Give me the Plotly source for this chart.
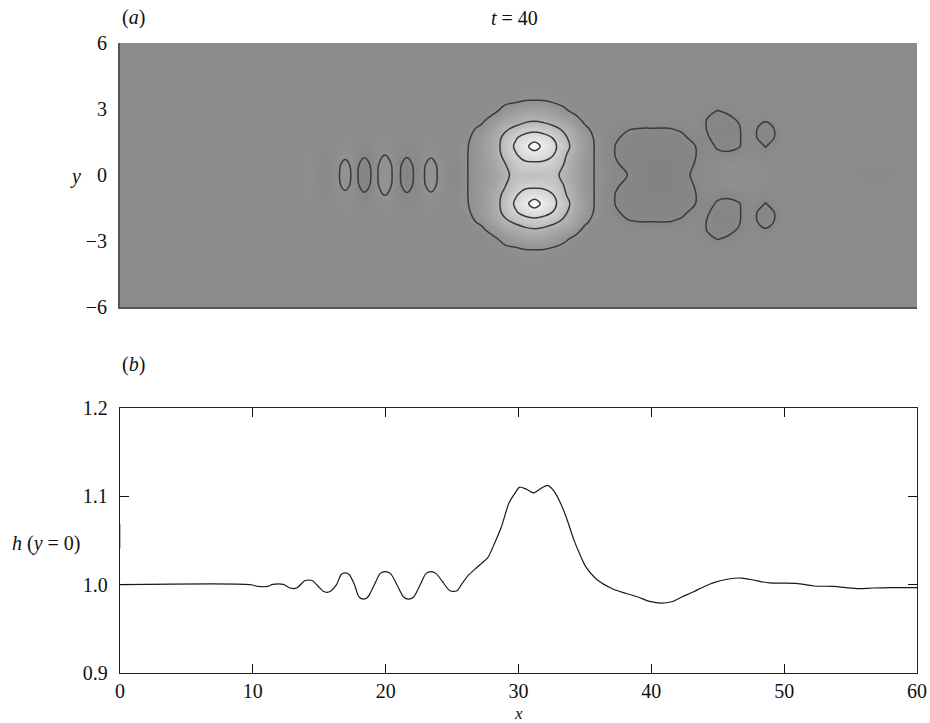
import plotly.graph_objects as go

# ---------------- panel (b): h along y = 0 ----------------
x_line = [0, 9.8, 10.4, 11.1, 11.5, 12.3, 12.8, 13.3, 13.9, 14.2, 14.5, 14.9, 15.3, 15.58, 15.85,
          16.3, 16.65, 16.95, 17.25, 17.65, 18.0, 18.33, 18.66, 19.15, 19.6, 19.96, 20.35,
          20.85, 21.35, 21.72, 22.1, 22.6, 23.05, 23.42, 23.8, 24.25, 24.8, 25.1, 25.4,
          25.7, 26.2, 26.9, 27.7, 28.2, 28.7, 29.3, 29.8, 30.08, 30.6, 31.15, 31.7, 32.2,
          32.5, 32.84, 33.2, 33.6, 34.2, 34.6, 35.1, 35.85, 37.1, 38.1, 39.0, 39.87, 40.75,
          41.6, 42.3, 43.1, 44.0, 44.65, 45.8, 46.8, 47.9, 48.9, 50.9, 52.2, 53.7, 55.45,
          56.7, 58.0, 60.0]
h_line = [1.0, 1.0, 0.998, 0.998, 1.0003, 1.0003, 0.9962, 0.9962, 1.0045, 1.0053, 1.0045,
          0.9985, 0.9925, 0.9913, 0.9925,
          1.0, 1.0115, 1.0133, 1.0115, 1.0, 0.986, 0.9837, 0.986, 1.0, 1.0128, 1.0148, 1.0128,
          1.0, 0.986, 0.9837, 0.986, 1.0, 1.0128, 1.0148, 1.0125, 1.004, 0.9935, 0.9924, 0.9935,
          1.0, 1.0102, 1.02, 1.031, 1.047, 1.065, 1.093, 1.105, 1.1105, 1.108, 1.104, 1.109, 1.1124,
          1.109, 1.102, 1.091, 1.076, 1.0496, 1.035, 1.0195, 1.0064, 0.9951, 0.990, 0.986, 0.981, 0.979,
          0.981, 0.986, 0.9914, 0.998, 1.002, 1.0064, 1.0075, 1.0045, 1.002, 1.0015, 0.9985, 0.998, 0.9955,
          0.9962, 0.9966, 0.9966]
# short spurious segment at the left edge of panel (b)
x_edge = [0, 0]
h_edge = [1.069, 1.041]

# ---------------- panel (a): h(x, y) on a coarse grid (upper half, mirrored) ----------------
x_nodes = [0, 11.0, 13.0, 14.25, 15.4,
           16.5, 16.95, 17.4, 17.9, 18.4, 18.9, 19.4, 19.95, 20.5, 21.1, 21.6, 22.1, 22.9, 23.4, 23.9,
           25.1, 26.2, 27.2, 28.2, 29.0, 29.8, 30.5, 31.2, 31.9, 32.6, 33.4, 34.3, 35.0, 35.7, 36.5,
           37.3, 38.3, 39.3, 40.3, 41.3, 42.3, 43.3,
           44.2, 45.0, 45.8, 46.6, 47.4, 48.0, 48.6, 49.2, 50.0,
           52.0, 56.0, 60.0]
y_half = [0, 0.5, 0.9, 1.3, 1.7, 2.1, 2.5, 2.9, 3.4, 4.0, 6.0]

h_y00 = [1.0, 0.999, 0.997, 1.005, 0.991,
         1.0098, 1.014, 1.0098, 0.9902, 0.984, 0.9902, 1.0098, 1.015, 1.0098, 0.9902, 0.984, 0.9902, 1.0098, 1.014, 1.0098,
         0.992, 1.0102, 1.026, 1.045, 1.08, 1.105, 1.110, 1.104, 1.110, 1.108, 1.076, 1.045, 1.022, 1.0098, 1.001,
         0.994, 0.9895, 0.984, 0.980, 0.980, 0.986, 0.9925,
         0.9985, 1.003, 1.0064, 1.0075, 1.006, 1.004, 1.003, 1.002, 1.0015,
         0.999, 0.996, 0.9966]
h_y05 = [1.0, 1.0, 0.998, 1.004, 0.993,
         1.0091, 1.012, 1.0091, 0.9909, 0.987, 0.9909, 1.0094, 1.0135, 1.0094, 0.9908, 0.987, 0.9908, 1.0094, 1.012, 1.0094,
         0.995, 1.0102, 1.028, 1.055, 1.089, 1.125, 1.14, 1.14, 1.14, 1.13, 1.091, 1.05, 1.025, 1.0098, 1.0,
         0.9915, 0.986, 0.983, 0.981, 0.981, 0.985, 0.9905,
         0.998, 1.002, 1.005, 1.006, 1.005, 1.003, 1.002, 1.0015, 1.001,
         0.999, 0.997, 0.997]
h_y09 = [1.0, 1.0, 0.999, 1.003, 0.995,
         1.004, 1.008, 1.004, 0.996, 0.9913, 0.996, 1.006, 1.0104, 1.006, 0.996, 0.991, 0.996, 1.004, 1.0091, 1.004,
         0.996, 1.0102, 1.03, 1.065, 1.105, 1.145, 1.17, 1.178, 1.17, 1.151, 1.1, 1.055, 1.028, 1.0098, 1.0,
         0.9895, 0.985, 0.983, 0.982, 0.982, 0.984, 0.9895,
         0.996, 0.9925, 0.992, 0.996, 1.0, 0.999, 0.995, 0.999, 1.0,
         0.999, 0.998, 0.998]
h_y13 = [1.0, 1.0, 1.0, 1.002, 0.997,
         1.002, 1.005, 1.002, 0.998, 0.994, 0.998, 1.003, 1.0072, 1.003, 0.998, 0.994, 0.998, 1.002, 1.005, 1.002,
         0.996, 1.0095, 1.03, 1.065, 1.115, 1.16, 1.192, 1.24, 1.192, 1.165, 1.12, 1.062, 1.03, 1.0098, 1.0,
         0.9895, 0.985, 0.9835, 0.983, 0.983, 0.985, 0.9898,
         0.994, 0.9885, 0.9875, 0.989, 0.998, 0.994, 0.9895, 0.994, 0.999,
         1.0, 0.999, 0.999]
h_y17 = [1.0, 1.0, 1.0, 1.001, 0.999,
         1.001, 1.002, 1.001, 0.999, 0.998, 0.999, 1.001, 1.003, 1.001, 0.999, 0.998, 0.999, 1.001, 1.002, 1.001,
         0.997, 1.006, 1.028, 1.06, 1.108, 1.145, 1.17, 1.18, 1.17, 1.148, 1.105, 1.055, 1.027, 1.008, 1.0,
         0.9915, 0.987, 0.9855, 0.985, 0.9855, 0.988, 0.993,
         0.991, 0.9865, 0.986, 0.9885, 0.998, 0.9893, 0.9875, 0.9893, 0.999,
         1.0, 1.0, 1.0]
h_y21 = [1.0, 1.0, 1.0, 1.0, 1.0,
         1.0, 1.0, 1.0, 1.0, 1.0, 1.0, 1.0, 1.001, 1.0, 1.0, 1.0, 1.0, 1.0, 1.0, 1.0,
         0.998, 1.002, 1.017, 1.05, 1.08, 1.105, 1.125, 1.132, 1.125, 1.108, 1.08, 1.045, 1.016, 1.003, 1.0,
         0.996, 0.9905, 0.9895, 0.9895, 0.9895, 0.9915, 0.997,
         0.9895, 0.9858, 0.986, 0.9888, 0.998, 0.9895, 0.9878, 0.9895, 0.999,
         1.0, 1.0, 1.0]
h_y25 = [1.0, 1.0, 1.0, 1.0, 1.0,
         1.0, 1.0, 1.0, 1.0, 1.0, 1.0, 1.0, 1.0, 1.0, 1.0, 1.0, 1.0, 1.0, 1.0, 1.0,
         1.0, 1.0, 1.003, 1.025, 1.05, 1.06, 1.075, 1.083, 1.075, 1.06, 1.045, 1.02, 1.003, 1.0, 1.0,
         0.999, 0.997, 0.9965, 0.9965, 0.9965, 0.997, 0.998,
         0.9895, 0.9865, 0.9875, 0.991, 0.999, 0.997, 0.9905, 0.997, 1.0,
         1.0, 1.0, 1.0]
h_y29 = [1.0, 1.0, 1.0, 1.0, 1.0,
         1.0, 1.0, 1.0, 1.0, 1.0, 1.0, 1.0, 1.0, 1.0, 1.0, 1.0, 1.0, 1.0, 1.0, 1.0,
         1.0, 1.0, 1.0, 1.005, 1.022, 1.035, 1.042, 1.045, 1.042, 1.035, 1.016, 1.003, 1.0, 1.0, 1.0,
         1.0, 0.999, 0.999, 0.999, 0.999, 0.999, 0.999,
         0.9925, 0.9895, 0.9915, 0.996, 1.0, 1.0, 0.999, 1.0, 1.0,
         1.0, 1.0, 1.0]
h_y34 = [1.0, 1.0, 1.0, 1.0, 1.0,
         1.0, 1.0, 1.0, 1.0, 1.0, 1.0, 1.0, 1.0, 1.0, 1.0, 1.0, 1.0, 1.0, 1.0, 1.0,
         1.0, 1.0, 1.0, 1.0, 1.001, 1.003, 1.0092, 1.0099, 1.0092, 1.003, 1.001, 1.0, 1.0, 1.0, 1.0,
         1.0, 1.0, 1.0, 1.0, 1.0, 1.0, 1.0,
         0.999, 0.999, 1.0, 1.0, 1.0, 1.0, 1.0, 1.0, 1.0,
         1.0, 1.0, 1.0]
h_y40 = [1.0, 1.0, 1.0, 1.0, 1.0,
         1.0, 1.0, 1.0, 1.0, 1.0, 1.0, 1.0, 1.0, 1.0, 1.0, 1.0, 1.0, 1.0, 1.0, 1.0,
         1.0, 1.0, 1.0, 1.0, 1.0, 1.0, 1.0, 1.0, 1.0, 1.0, 1.0, 1.0, 1.0, 1.0, 1.0,
         1.0, 1.0, 1.0, 1.0, 1.0, 1.0, 1.0,
         1.0, 1.0, 1.0, 1.0, 1.0, 1.0, 1.0, 1.0, 1.0,
         1.0, 1.0, 1.0]
h_y60 = [1.0, 1.0, 1.0, 1.0, 1.0,
         1.0, 1.0, 1.0, 1.0, 1.0, 1.0, 1.0, 1.0, 1.0, 1.0, 1.0, 1.0, 1.0, 1.0, 1.0,
         1.0, 1.0, 1.0, 1.0, 1.0, 1.0, 1.0, 1.0, 1.0, 1.0, 1.0, 1.0, 1.0, 1.0, 1.0,
         1.0, 1.0, 1.0, 1.0, 1.0, 1.0, 1.0,
         1.0, 1.0, 1.0, 1.0, 1.0, 1.0, 1.0, 1.0, 1.0,
         1.0, 1.0, 1.0]

rows_half = [h_y00, h_y05, h_y09, h_y13, h_y17, h_y21, h_y25, h_y29, h_y34, h_y40, h_y60]
for r in rows_half:
    assert len(r) == len(x_nodes), len(r)

y_full = [-v for v in reversed(y_half[1:])] + y_half
z_full = list(reversed(rows_half[1:])) + rows_half

# ---------------- figure ----------------
W, H = 930, 723
L, R, T, B = 120, 917, 43, 673   # plot area in pixels


def px(x):
    return (x - L) / (R - L)


def py(y):
    return (B - y) / (B - T)


FONT = "Liberation Serif"
LINEC = "#3a3a3a"

fig = go.Figure()

fig.add_trace(go.Heatmap(
    x=x_nodes, y=y_full, z=z_full, zsmooth="best",
    colorscale=[[0, "rgb(0,0,0)"], [1, "rgb(255,255,255)"]],
    zmin=0.707, zmax=1.24, showscale=False, hoverinfo="skip",
    xaxis="x", yaxis="y"))

fig.add_trace(go.Contour(
    x=x_nodes, y=y_full, z=z_full,
    contours=dict(start=0.99, end=1.01, size=0.02, coloring="none"),
    line=dict(color=LINEC, width=1.5, smoothing=1.1),
    showscale=False, hoverinfo="skip", xaxis="x", yaxis="y"))

fig.add_trace(go.Contour(
    x=x_nodes, y=y_full, z=z_full,
    contours=dict(start=1.09, end=1.21, size=0.06, coloring="none"),
    line=dict(color=LINEC, width=1.5, smoothing=1.1),
    showscale=False, hoverinfo="skip", xaxis="x", yaxis="y"))

fig.add_trace(go.Scatter(
    x=x_line, y=h_line, mode="lines",
    line=dict(color="#1a1a1a", width=1.2, shape="spline", smoothing=0.8),
    hoverinfo="skip", xaxis="x2", yaxis="y2"))

fig.add_trace(go.Scatter(
    x=x_edge, y=h_edge, mode="lines",
    line=dict(color="#888888", width=1.2),
    hoverinfo="skip", xaxis="x2", yaxis="y2"))

tickfont = dict(family=FONT, size=20, color="#111")

fig.update_layout(
    width=W, height=H,
    margin=dict(l=L, r=W - R, t=T, b=H - B, autoexpand=False),
    paper_bgcolor="white", plot_bgcolor="white",
    showlegend=False,
    xaxis=dict(domain=[0, 1], range=[0, 60], anchor="y",
               showticklabels=False, ticks="", showgrid=False, zeroline=False,
               showline=True, linecolor="#555", linewidth=2),
    yaxis=dict(domain=[py(307), 1], range=[-6, 6], anchor="x",
               tickvals=[-6, -3, 0, 3, 6], ticks="", showgrid=False, zeroline=False,
               showline=True, linecolor="#555", linewidth=2,
               tickfont=tickfont, ticklabelstandoff=7),
    xaxis2=dict(domain=[0, 1], range=[0, 60], anchor="y2",
                tickvals=[0, 10, 20, 30, 40, 50, 60], ticks="inside", ticklen=9,
                tickcolor="#111", mirror="ticks", showline=True, linecolor="#222",
                linewidth=1.4, showgrid=False, zeroline=False,
                tickfont=tickfont, ticklabelstandoff=0),
    yaxis2=dict(domain=[0, py(408)], range=[0.9, 1.2], anchor="x2",
                tickvals=[0.9, 1.0, 1.1, 1.2], ticktext=["0.9", "1.0", "1.1", "1.2"],
                ticks="inside", ticklen=9, tickcolor="#111", mirror="ticks",
                showline=True, linecolor="#222", linewidth=1.4,
                showgrid=False, zeroline=False,
                tickfont=tickfont, ticklabelstandoff=7),
)

ann_font = dict(family=FONT, size=20, color="#111")


def label(text, x, y, anchor="center", yanchor="middle", size=20):
    fig.add_annotation(text=text, x=px(x), y=py(y), xref="paper", yref="paper",
                       showarrow=False, xanchor=anchor, yanchor=yanchor,
                       font=dict(ann_font, size=size), borderpad=0)


label("(<i>a</i>)", 121, 18, "left")
label("(<i>b</i>)", 121, 364, "left")
label("<i>t</i> = 40", 514, 18)
label("<i>y</i>", 75, 176)
label("<i>h</i> (<i>y</i> = 0)", 46, 543)
label("<i>x</i>", 518, 724, yanchor="bottom", size=17)

# the page body would otherwise add an 8 px margin around the figure
fig.write_html("out.html", config={"displayModeBar": False},
               post_script="document.body.style.margin='0px';")
